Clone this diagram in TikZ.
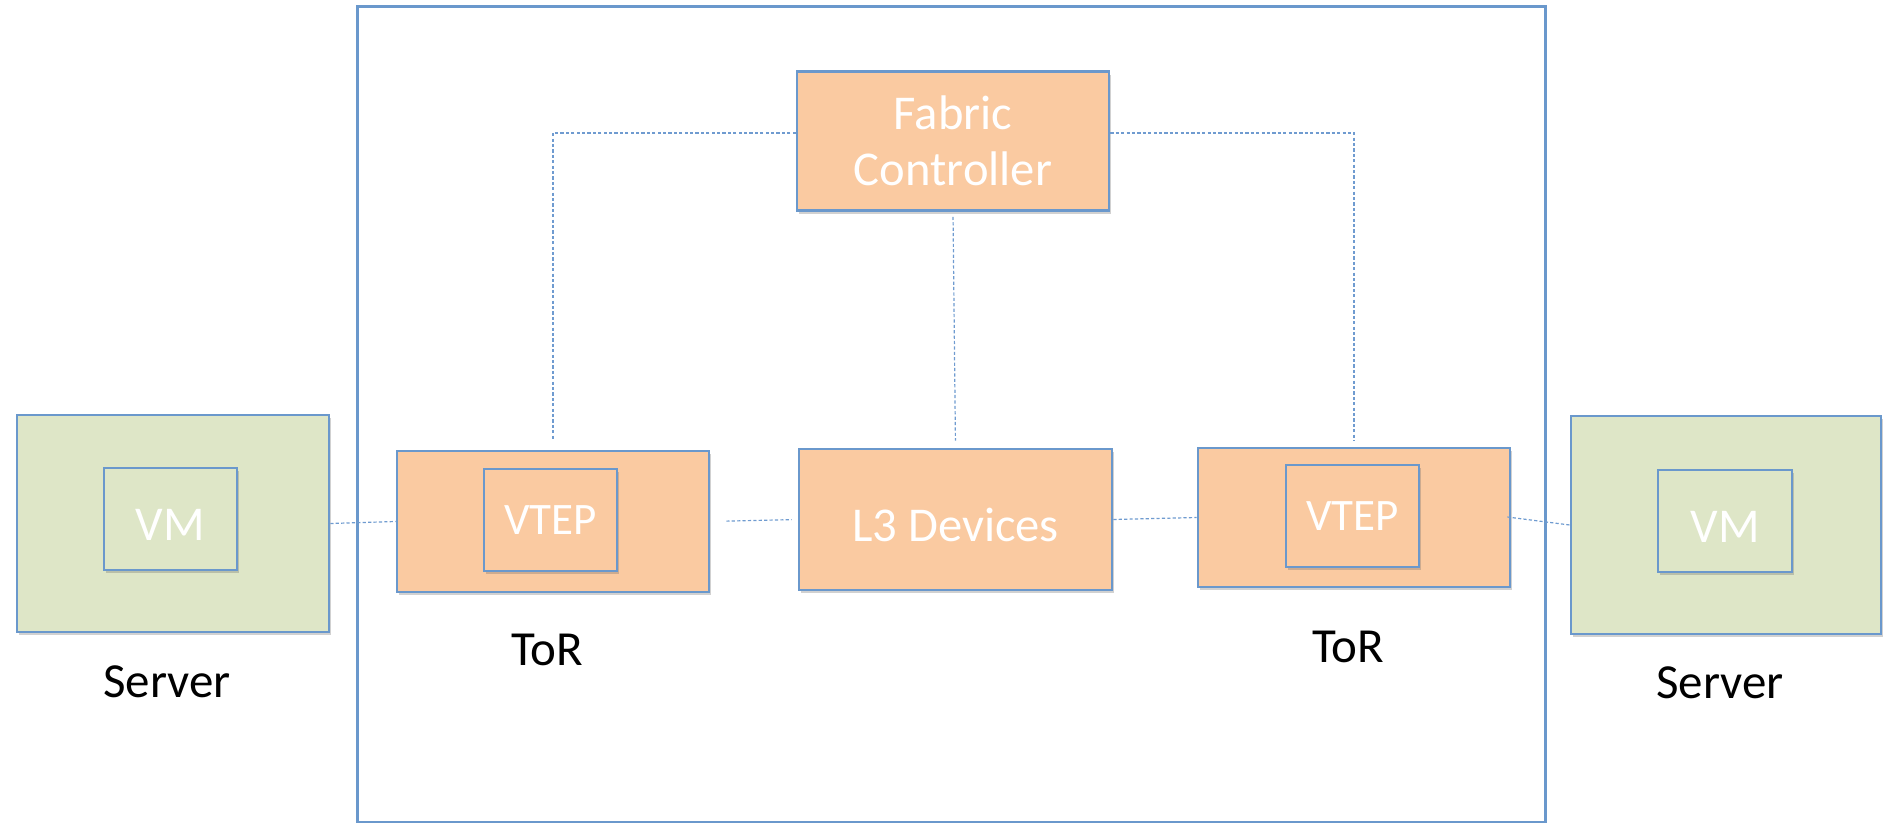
\documentclass[tikz,border=0pt]{standalone}
\usepackage{fontspec}
\setmainfont{Carlito}
\usetikzlibrary{shadows}

\definecolor{edgeblue}{HTML}{6A98CC}
\definecolor{linkblue}{HTML}{6F9BD0}
\definecolor{torfill}{HTML}{FACAA1}
\definecolor{srvfill}{HTML}{DEE6C7}

\tikzset{
  box/.style={draw=edgeblue, line width=1.3pt, rectangle, inner sep=0pt,
    drop shadow={shadow xshift=1.2pt, shadow yshift=-1.6pt, opacity=0.3, fill=black!60}},
  torbox/.style={box, fill=torfill},
  srvbox/.style={box, fill=srvfill},
  inlabel/.style={text=white, font=\fontsize{24.3}{28}\selectfont, align=center},
  lowtext/.style={text height=21.5pt, text depth=0pt},
  outlabel/.style={text=black, font=\fontsize{24.5}{28}\selectfont},
  link/.style={draw=linkblue, line width=0.6pt, dash pattern=on 1.6pt off 1.1pt},
}

\begin{document}
\begin{tikzpicture}[x=0.5pt, y=-0.5pt]
  \useasboundingbox (0,0) rectangle (1884,823);

  % data-centre fabric frame
  \node[draw=edgeblue, line width=1.5pt, rectangle, inner sep=0pt,
        minimum width=594pt, minimum height=407.5pt] (dc) at (951,414.5) {};

  % fabric controller and L3 core
  \node[torbox, minimum width=156pt, minimum height=69.5pt, inlabel] (fc) at (953,141)
    {Fabric\\Controller};
  \node[torbox, minimum width=156.5pt, minimum height=70.5pt, inlabel, lowtext] (l3) at (955.5,519.5)
    {L3 Devices};

  % top-of-rack switches with their VTEPs
  \node[torbox, minimum width=156pt, minimum height=70.5pt] (torL) at (553,521.5) {};
  \node[torbox, minimum width=66.5pt, minimum height=51pt, inlabel,
        font=\fontsize{22.5}{26}\selectfont] (vtepL) at (550.5,520) {VTEP};
  \node[outlabel] (torLlbl) at (547,650) {ToR};

  \node[torbox, minimum width=156pt, minimum height=69.5pt] (torR) at (1354,517.5) {};
  \node[torbox, minimum width=66.5pt, minimum height=51pt, inlabel,
        font=\fontsize{22.5}{26}\selectfont] (vtepR) at (1352.5,516) {VTEP};
  \node[outlabel] (torRlbl) at (1348,647) {ToR};

  % servers hosting VMs
  \node[srvbox, minimum width=156pt, minimum height=108.5pt] (srvL) at (173,523.5) {};
  \node[srvbox, minimum width=66.5pt, minimum height=51pt, inlabel, lowtext] (vmL) at (170.5,519) {VM};
  \node[outlabel] (srvLlbl) at (167,682) {Server};

  \node[srvbox, minimum width=155pt, minimum height=109pt] (srvR) at (1726,525) {};
  \node[srvbox, minimum width=67pt, minimum height=51pt, inlabel, lowtext] (vmR) at (1725,521) {VM};
  \node[outlabel] (srvRlbl) at (1720,683) {Server};

  % control-plane links
  \draw[link, shorten >=4.5pt] ([yshift=4pt]fc.west) -| (torL.north);
  \draw[link, shorten >=3pt] ([yshift=4pt]fc.east) -| (torR.north);
  \draw[link, shorten <=2.5pt, shorten >=3.5pt] (fc.south) -- (l3.north);

  % data-plane links
  \draw[link] (srvL.east) -- (torL.west);
  \draw[link, shorten <=8pt, shorten >=3pt] (torL.east) -- (l3.west);
  \draw[link] (l3.east) -- (torR.west);
  \draw[link, shorten <=-2pt] (torR.east) -- (srvR.west);
\end{tikzpicture}
\end{document}
